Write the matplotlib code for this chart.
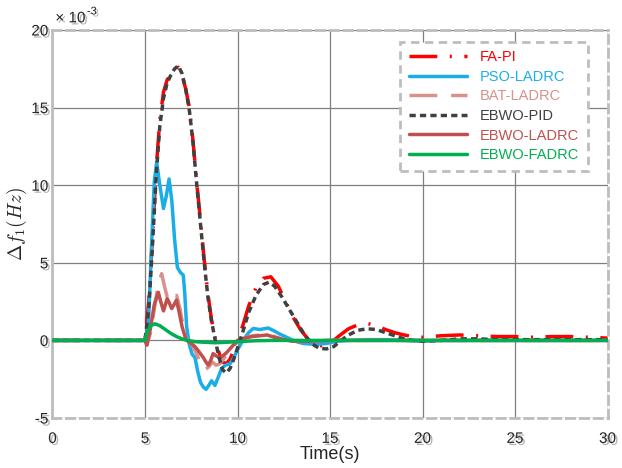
import numpy as np
import matplotlib
matplotlib.use('Agg')
import matplotlib.pyplot as plt
import matplotlib.patheffects as pe
from matplotlib.ticker import FuncFormatter

plt.rcParams['font.family'] = ['Liberation Sans', 'DejaVu Sans']
plt.rcParams['mathtext.fontset'] = 'cm'
plt.rcParams['axes.unicode_minus'] = False
plt.rcParams['lines.scale_dashes'] = False

# frequency deviation, in units of 1e-3 Hz
t_fapi = [0, 5, 5.2, 5.4, 5.6, 5.8, 6.0, 6.2, 6.4, 6.6, 6.8, 7.0, 7.2, 7.4, 7.6, 7.8, 8.0,
          8.2, 8.4, 8.6, 8.8, 9.0, 9.2, 9.4, 9.6, 9.8, 10.0, 10.3, 10.6, 11.0, 11.4, 11.8,
          12.2, 12.6, 13.0, 13.4, 13.8, 14.2, 14.6, 15.0, 15.5, 16.0, 16.5, 17.0, 17.5,
          18.0, 18.5, 19.0, 19.5, 20, 21, 22, 23, 24, 25, 26, 27, 28, 29, 30]
f_fapi = [0, 0, 2.5, 6.5, 11.0, 14.2, 16.0, 16.8, 17.1, 17.4, 17.6, 17.1, 16.2, 15.0, 12.8,
          10.1, 7.7, 5.2, 3.0, 1.3, 0.1, -0.8, -1.4, -1.5, -1.2, -0.6, 0.0, 1.0, 2.2, 3.4,
          4.0, 4.1, 3.5, 2.5, 1.5, 0.7, 0.1, -0.3, -0.35, -0.2, 0.3, 0.75, 1.0, 1.1, 0.95,
          0.7, 0.5, 0.35, 0.25, 0.2, 0.3, 0.35, 0.3, 0.25, 0.25, 0.2, 0.25, 0.25, 0.2, 0.15]

t_pso = [0, 5.0, 5.1, 5.2, 5.35, 5.5, 5.63, 5.8, 6.0, 6.15, 6.3, 6.45, 6.6, 6.75, 6.9,
         7.07, 7.15, 7.25, 7.4, 7.55, 7.7, 7.85, 8.0, 8.15, 8.3, 8.45, 8.6, 8.78, 8.95,
         9.14, 9.35, 9.6, 9.8, 10.0, 10.3, 10.6, 10.85, 11.2, 11.66, 12.0, 12.3, 12.66,
         13.1, 13.56, 14.2, 14.8, 15.4, 16, 17, 18, 19, 20, 21, 30]
f_pso = [0, 0, -0.2, 1.5, 6.0, 10.2, 11.5, 10.0, 8.5, 9.3, 10.4, 9.0, 6.5, 4.7, 4.4,
         4.2, 3.0, 0.9, -0.3, -0.9, -1.1, -2.0, -2.7, -3.0, -3.15, -2.9, -2.6, -2.9, -2.4,
         -1.8, -1.6, -1.5, -1.1, -0.6, 0.0, 0.5, 0.77, 0.7, 0.8, 0.6, 0.4, 0.2,
         -0.05, -0.2, -0.25, -0.2, -0.05, 0, 0.05, 0.05, 0.0, -0.05, 0, 0]

t_bat = [0, 5.0, 5.1, 5.3, 5.5, 5.7, 5.9, 6.05, 6.2, 6.4, 6.55, 6.71, 6.9, 7.06, 7.2,
         7.4, 7.6, 7.8, 8.0, 8.24, 8.45, 8.65, 8.85, 9.05, 9.3, 9.6, 9.9, 10.2, 10.5,
         10.8, 11.2, 11.6, 12.0, 12.5, 13, 14, 15, 30]
f_bat = [0, 0, -0.3, 0.5, 2.0, 3.5, 4.3, 3.5, 2.8, 2.5, 2.8, 2.9, 2.0, 0.9, 0.2,
         -0.1, -0.4, -0.9, -1.5, -1.9, -1.7, -1.4, -1.6, -1.5, -1.1, -0.6, -0.2, 0.05, 0.2,
         0.3, 0.35, 0.4, 0.25, 0.05, -0.05, -0.05, 0, 0]

t_pid = [0, 5, 5.2, 5.4, 5.6, 5.8, 6.0, 6.2, 6.4, 6.6, 6.8, 7.0, 7.2, 7.4, 7.6, 7.8, 8.0,
         8.2, 8.4, 8.6, 8.8, 9.0, 9.2, 9.4, 9.6, 9.8, 10.0, 10.3, 10.6, 11.0, 11.4, 11.7,
         12.0, 12.4, 12.8, 13.2, 13.6, 14.0, 14.4, 14.8, 15.2, 15.6, 16.0, 16.5, 17.0,
         17.5, 18.0, 18.5, 19.0, 19.5, 20, 21, 22, 23, 24, 25, 26, 27, 28, 29, 30]
f_pid = [0, 0, 2.0, 6.0, 10.5, 13.8, 15.6, 16.6, 17.1, 17.5, 17.7, 17.2, 16.2, 14.8, 12.7,
         10.0, 7.5, 5.0, 2.8, 1.2, 0.0, -1.1, -1.9, -2.1, -1.8, -1.2, -0.5, 0.6, 1.8, 2.9,
         3.6, 3.75, 3.5, 2.8, 2.0, 1.2, 0.4, -0.2, -0.5, -0.55, -0.4, 0.0, 0.35, 0.65, 0.75,
         0.7, 0.5, 0.3, 0.1, 0.0, -0.05, 0.0, 0.1, 0.1, 0.05, 0.05, 0.05, 0.05, 0.05, 0.05, 0.05]

t_ladrc = [0, 5.0, 5.1, 5.3, 5.5, 5.72, 5.85, 6.0, 6.1, 6.2, 6.32, 6.44, 6.57, 6.7, 6.85,
           7.0, 7.15, 7.25, 7.5, 7.7, 7.9, 8.15, 8.3, 8.42, 8.55, 8.68, 8.85, 9.05, 9.2,
           9.4, 9.7, 10.0, 10.4, 10.8, 11.2, 11.6, 12.0, 12.5, 13.0, 14, 15, 30]
f_ladrc = [0, 0, -0.3, 0.8, 2.3, 3.1, 2.5, 1.9, 2.3, 2.7, 2.4, 2.05, 2.3, 2.6, 1.8,
           0.9, 0.3, 0.0, -0.2, -0.4, -0.7, -1.1, -1.4, -1.6, -1.3, -0.85, -1.0, -1.1, -1.0,
           -0.8, -0.4, 0.0, 0.15, 0.25, 0.3, 0.35, 0.2, 0.05, -0.05, -0.05, 0, 0]

t_fadrc = [0, 5.0, 5.1, 5.3, 5.54, 5.8, 6.1, 6.4, 6.7, 7.0, 7.3, 7.7, 8.2, 8.8, 9.4, 10,
           11, 12, 30]
f_fadrc = [0, 0, 0.5, 0.95, 1.07, 0.95, 0.7, 0.45, 0.25, 0.1, 0.0, -0.08, -0.12, -0.15,
           -0.12, -0.08, -0.02, 0.0, 0]

x_ticks = [0, 5, 10, 15, 20, 25, 30]
y_ticks = [-5e-3, 0, 5e-3, 10e-3, 15e-3, 20e-3]

fig = plt.figure(figsize=(6.22, 4.68), dpi=100)
ax = fig.add_axes([0.0844, 0.1068, 0.8923, 0.8291])

shadow = [pe.SimplePatchShadow(offset=(1.5, -1.5), alpha=0.25), pe.Normal()]
text_shadow = [pe.withSimplePatchShadow(offset=(1.5, -1.5), alpha=0.3)]
lw = 2.5

series = [
    ('FA-PI', t_fapi, f_fapi, '#ff0000', (0, (20, 9, 1.5, 9)), 2),
    ('PSO-LADRC', t_pso, f_pso, '#1aaee8', '-', 3),
    ('BAT-LADRC', t_bat, f_bat, '#d8918b', (0, (20, 10)), 3),
    ('EBWO-PID', t_pid, f_pid, '#404040', (0, (4.5, 3)), 5),
    ('EBWO-LADRC', t_ladrc, f_ladrc, '#c0504d', '-', 4),
    ('EBWO-FADRC', t_fadrc, f_fadrc, '#00b050', '-', 6),
]
for name, t, f, c, ls, z in series:
    ax.plot(t, np.array(f) * 1e-3, color=c, linestyle=ls, linewidth=lw, label=name,
            zorder=z, solid_capstyle='round', dash_capstyle='butt')

ax.set_xlim(0, 30)
ax.set_ylim(-5e-3, 20e-3)
ax.set_xticks(x_ticks)
ax.set_yticks(y_ticks)
ax.yaxis.set_major_formatter(FuncFormatter(lambda v, p: f'{v * 1e3:g}'))

# exponent label above the y axis
ax.text(0.005, 1.012, '\u00d7 10', transform=ax.transAxes, fontsize=11,
        color='#262626', ha='left', va='bottom', path_effects=text_shadow)
ax.text(0.062, 1.035, '-3', transform=ax.transAxes, fontsize=8,
        color='#262626', ha='left', va='bottom', path_effects=text_shadow)

ax.grid(True, color='#7f7f7f', linewidth=0.9)
ax.set_axisbelow(True)
ax.tick_params(length=0, labelsize=11, labelcolor='#262626')
ax.tick_params(axis='x', pad=10)
ax.tick_params(axis='y', pad=3)
for lab in ax.get_xticklabels() + ax.get_yticklabels():
    lab.set_path_effects(text_shadow)

for side in ['top', 'right', 'bottom']:
    ax.spines[side].set_linestyle((0, (6, 4)))
ax.spines['left'].set_linestyle('-')
for side in ax.spines:
    ax.spines[side].set_color('#bdbdbd')
    ax.spines[side].set_linewidth(2)
ax.spines['bottom'].set_path_effects(shadow)
ax.spines['left'].set_path_effects(shadow)

ax.set_xlabel('Time(s)', fontsize=13, color='#262626', labelpad=0)
ax.set_ylabel(r'$\Delta f_1(Hz)$', fontsize=14, color='#262626', labelpad=2)

leg = ax.legend(loc='upper right', bbox_to_anchor=(0.965, 0.97), borderaxespad=0,
                fontsize=10.5, handlelength=4, fancybox=False, framealpha=1,
                labelspacing=0.38, borderpad=0.6, handletextpad=0.9)
frame = leg.get_frame()
frame.set_edgecolor('#bdbdbd')
frame.set_linewidth(2)
frame.set_linestyle((0, (6, 4)))
for txt, (_, _, _, c, _, _) in zip(leg.get_texts(), series):
    txt.set_color(c)

fig.savefig('out.png', dpi=100)
